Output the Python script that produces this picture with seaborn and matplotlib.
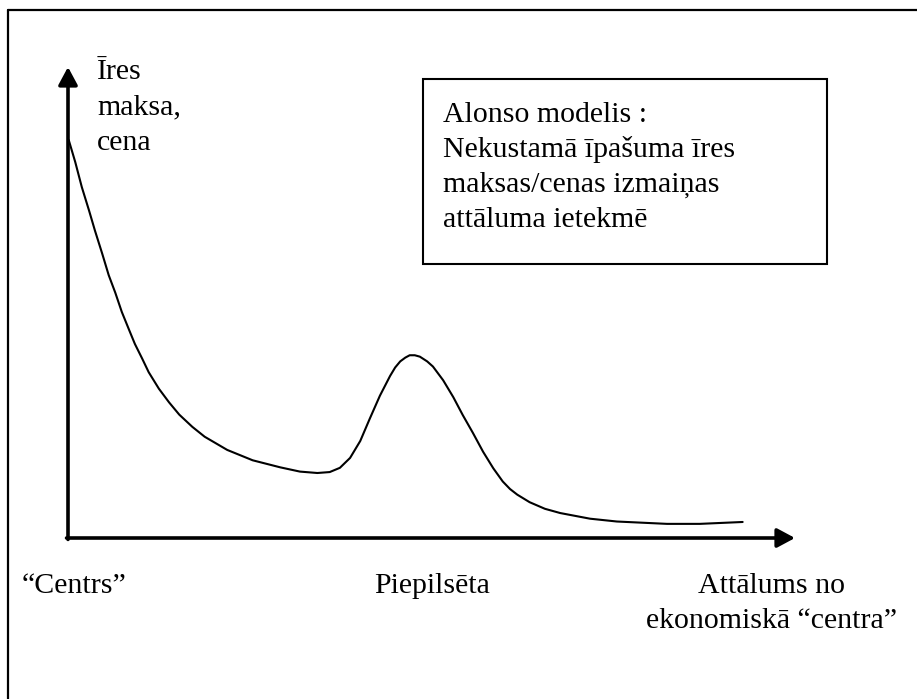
import numpy as np
import matplotlib
matplotlib.use('Agg')
import matplotlib.pyplot as plt
from matplotlib.lines import Line2D
from matplotlib.patches import Rectangle
import seaborn as sns

# distance from the centre (x) and rent / price (y)
distance = [0.01, 0.10, 0.19, 0.29, 0.37, 0.47, 0.56, 0.65, 0.74, 0.84, 0.92,
            1.02, 1.11, 1.25, 1.39, 1.53, 1.71, 1.88, 2.19, 2.54, 2.92, 3.19,
            3.43, 3.60, 3.74, 3.88, 4.02, 4.15, 4.29, 4.43, 4.50, 4.57, 4.64,
            4.70, 4.77, 4.84, 4.94, 5.02, 5.16, 5.30, 5.43, 5.57, 5.71, 5.85,
            5.98, 6.08, 6.18, 6.35, 6.56, 6.77, 7.18, 7.55, 8.24, 8.69, 9.28]
rent = [8.45, 7.98, 7.45, 6.95, 6.53, 6.04, 5.58, 5.21, 4.80, 4.42, 4.12,
        3.81, 3.52, 3.17, 2.88, 2.62, 2.36, 2.15, 1.87, 1.65, 1.50, 1.41,
        1.38, 1.40, 1.49, 1.70, 2.06, 2.53, 3.02, 3.44, 3.62, 3.75, 3.83,
        3.88, 3.88, 3.85, 3.75, 3.64, 3.35, 2.99, 2.61, 2.23, 1.83, 1.48,
        1.20, 1.04, 0.92, 0.76, 0.62, 0.53, 0.41, 0.35, 0.30, 0.30, 0.34]

y_label = ['Īres', 'maksa,', 'cena']
box_lines = ['Alonso modelis :', 'Nekustamā īpašuma īres',
             'maksas/cenas izmaiņas', 'attāluma ietekmē']
x_left_label = '“Centrs”'
x_mid_label = 'Piepilsēta'
x_right_label = ['Attālums no', 'ekonomiskā “centra”']

sns.set_theme(style='white')
plt.rcParams['font.family'] = ['Liberation Serif', 'DejaVu Serif']

W, H = 917, 699
fig = plt.figure(figsize=(W / 100, H / 100), dpi=100)


def fx(px):
    return px / W


def fy(py):
    return 1 - py / H


# outer frame (only top and left edges are inside the picture)
fig.add_artist(Line2D([fx(8), 1.01], [fy(10), fy(10)], color='black', lw=1.6))
fig.add_artist(Line2D([fx(8), fx(8)], [fy(10), -0.01], color='black', lw=1.6))

ax = fig.add_axes([fx(68), fy(538), fx(795) - fx(68), fy(67) - fy(538)])
ax.set_xlim(0, 10)
ax.set_ylim(0, 10)
ax.axis('off')

sns.lineplot(x=distance, y=rent, sort=False, color='black', lw=1.5, ax=ax,
             solid_joinstyle='round', solid_capstyle='round')

arrow = dict(arrowstyle='-|>,head_length=10.8,head_width=5.8', color='black',
             lw=2.6, shrinkA=0, shrinkB=0, mutation_scale=1)
ax.annotate('', xy=(0, 1), xytext=(0, -0.003), xycoords='axes fraction',
            arrowprops=arrow)
ax.annotate('', xy=(1, 0), xytext=(-0.002, 0), xycoords='axes fraction',
            arrowprops=arrow)

fs = 21.5


def put_lines(lines, px, first_baseline, ha='left', step=35.5):
    for i, t in enumerate(lines):
        fig.text(fx(px), fy(first_baseline + i * step), t, ha=ha, va='baseline',
                 fontsize=fs, color='black')


put_lines(y_label, 97, 79)

fig.add_artist(Rectangle((fx(423), fy(264)), fx(827) - fx(423), fy(79) - fy(264),
                         fill=False, edgecolor='black', lw=1.5))
put_lines(box_lines, 443, 122, step=35)

put_lines([x_left_label], 22, 593)
put_lines([x_mid_label], 432, 593, ha='center')
put_lines(x_right_label, 771, 593, ha='center', step=35)

fig.savefig('out.png', dpi=100)
